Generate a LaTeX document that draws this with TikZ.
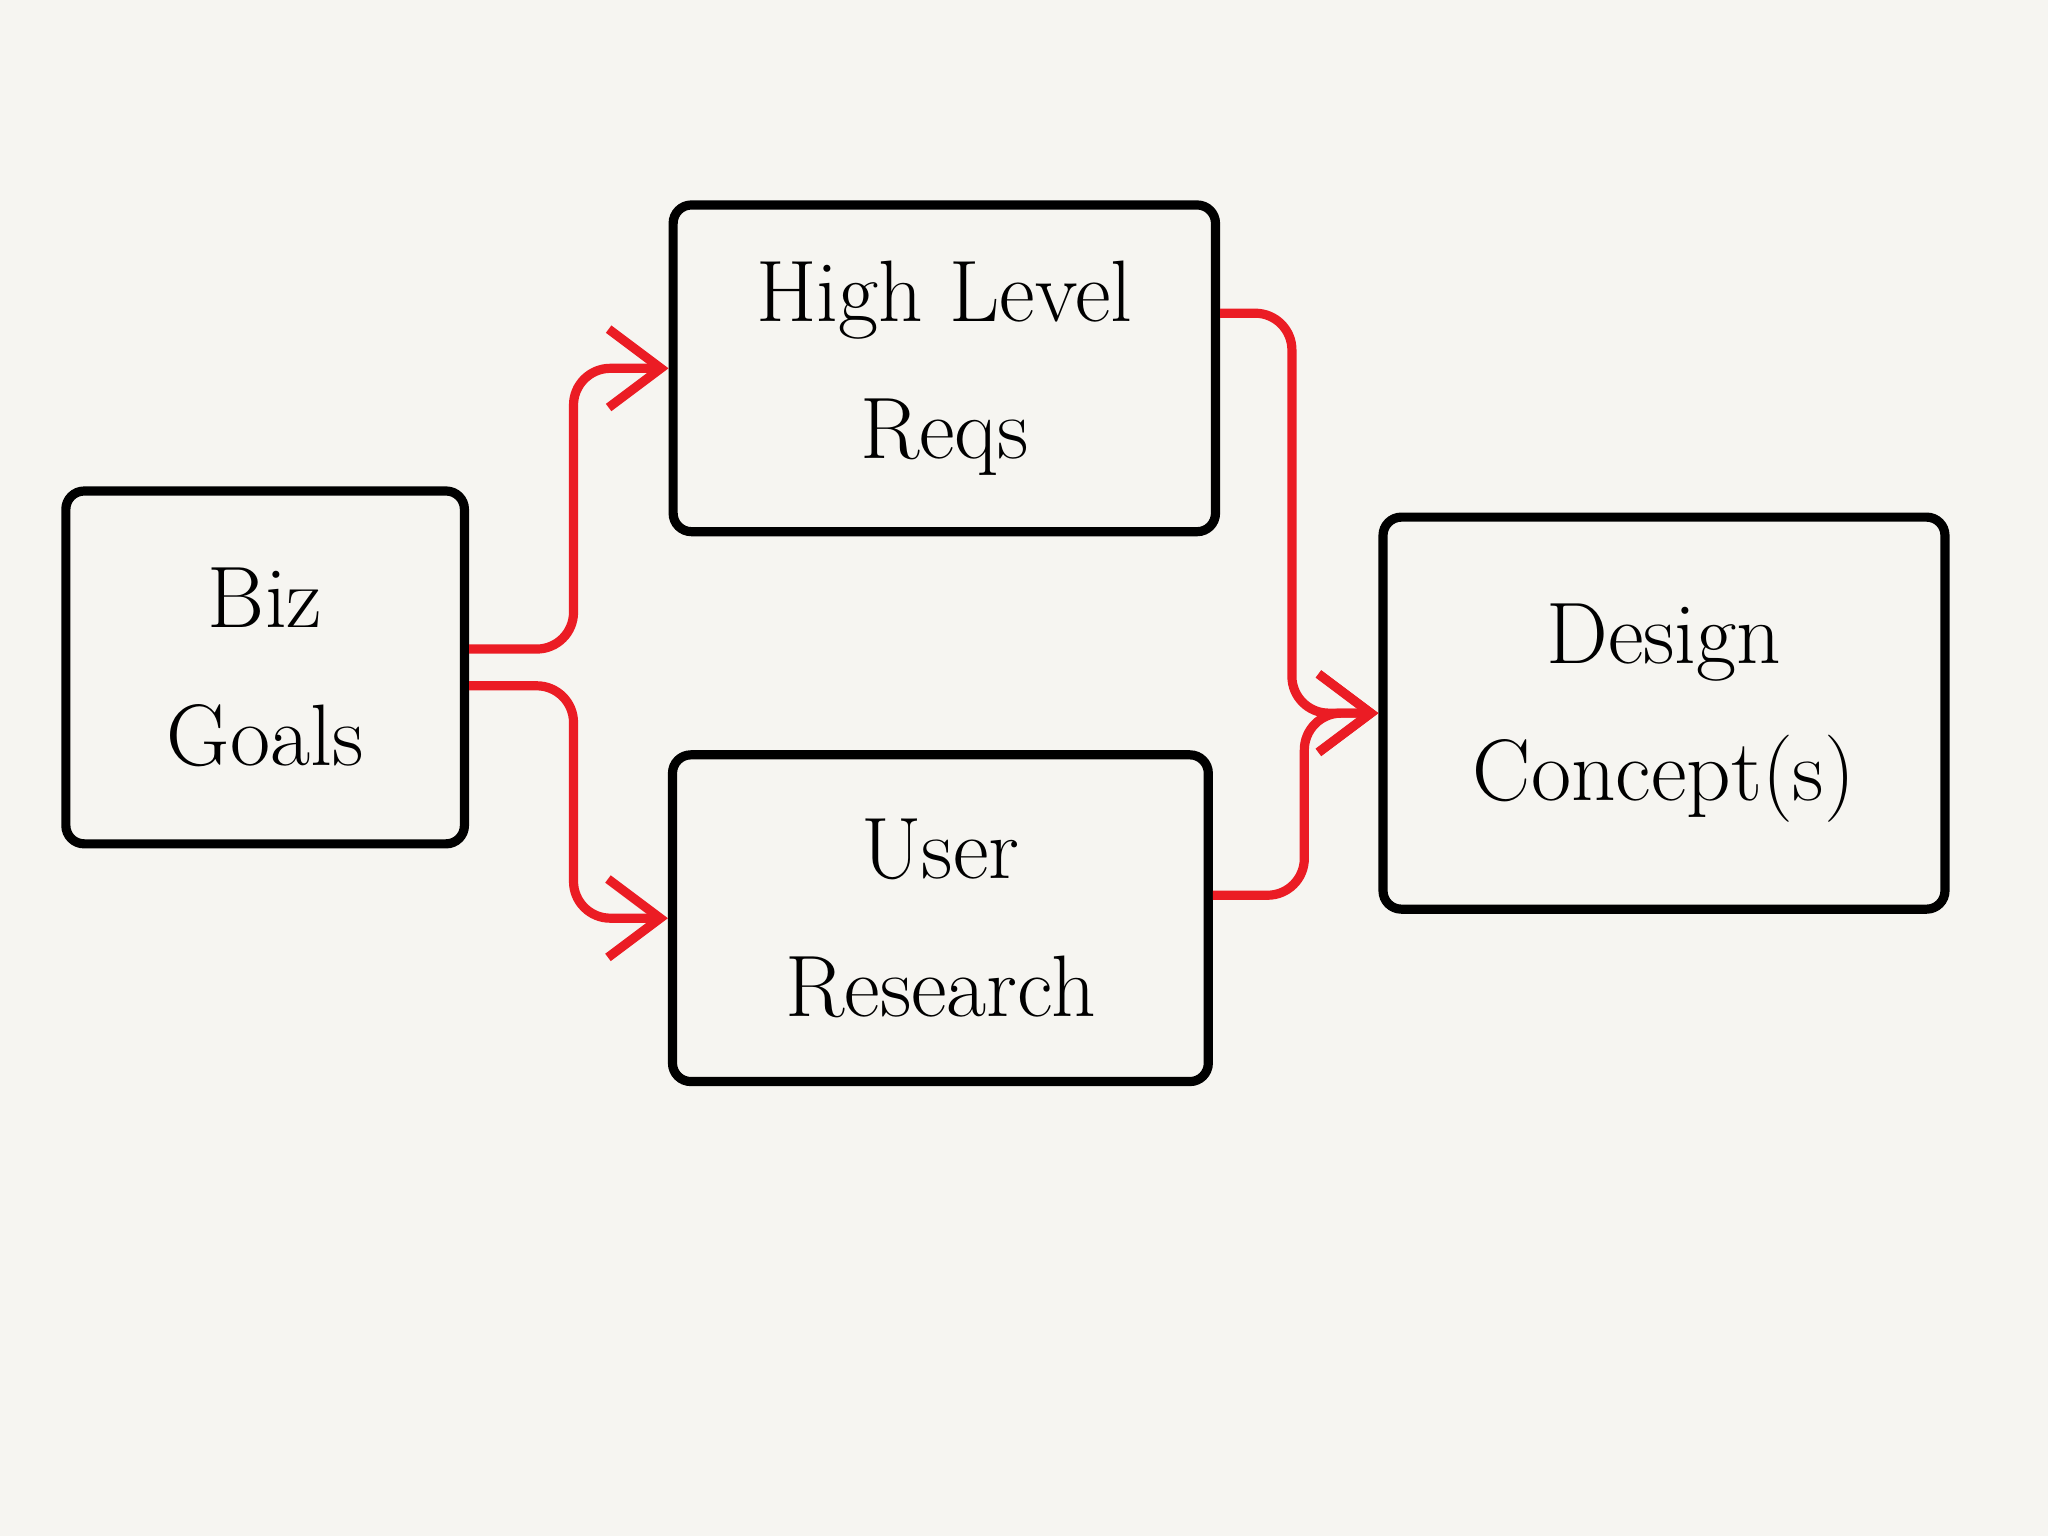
\documentclass[tikz,border=0pt]{standalone}
\usepackage{tikz}
\usetikzlibrary{arrows.meta}
\definecolor{paper}{RGB}{246,245,241}
\definecolor{ink}{RGB}{235,28,36}
\tikzset{
  box/.style={draw=black, line width=2pt, rounded corners=4pt, align=center,
    font=\fontsize{19}{30}\selectfont, inner sep=0pt},
  link/.style={draw=ink, line width=2pt, rounded corners=8pt,
    -{Straight Barb[length=4mm,width=6mm]}}
}
\begin{document}
\begin{tikzpicture}[x=0.01cm,y=-0.01cm]
        \fill [paper] (0,0) rectangle (1568,1176);
        \useasboundingbox (0,0) rectangle (1568,1176);

        \node (biz) [box, minimum width=3.05cm, minimum height=2.7cm] at (203,511) {Biz\\Goals};
        \node (hlr) [box, minimum width=4.15cm, minimum height=2.5cm] at (723,282) {High Level\\Reqs};
        \node (ur) [box, minimum width=4.1cm, minimum height=2.5cm] at (720,703) {User\\Research};
        \node (dc) [box, minimum width=4.3cm, minimum height=3.0cm] at (1274,546) {Design\\Concept(s)};

        \draw [link] ([yshift=4pt]biz.east) -- +(80,0) |- (hlr.west);
        \draw [link] ([yshift=-4pt]biz.east) -- +(80,0) |- (ur.west);
        \draw [link] ([yshift=12pt]hlr.east) -- +(55,0) |- (dc.west);
        \draw [link] ([yshift=5pt]ur.east) -- +(70,0) |- (dc.west);
\end{tikzpicture}
\end{document}
